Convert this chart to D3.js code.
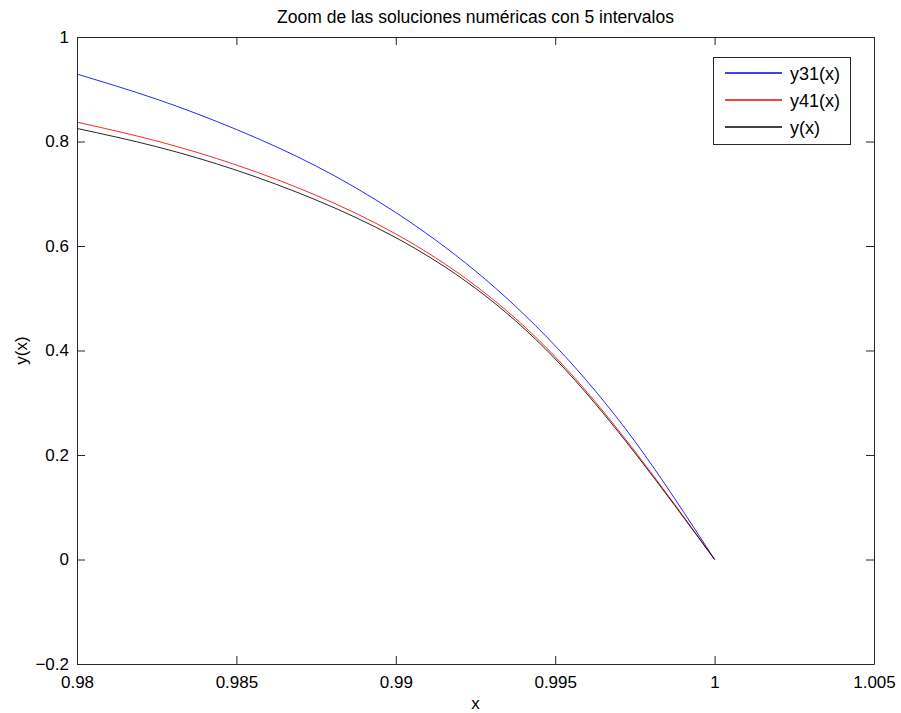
<!DOCTYPE html>
<html>
<head>
<meta charset="utf-8">
<script src="https://cdn.jsdelivr.net/npm/d3@7"></script>
<style>
  html, body { margin: 0; padding: 0; background: #fff; }
  svg { display: block; font-family: "Liberation Sans", Arial, sans-serif; }
</style>
</head>
<body>
<div id="chart"></div>
<script>
// ---- data ----
const xValues   = [0.98, 0.9825, 0.985, 0.9875, 0.99, 0.9925, 0.995, 0.9975, 1.0];
const y31Values = [0.929, 0.881, 0.823, 0.753, 0.664, 0.552, 0.409, 0.226, 0];
const y41Values = [0.837, 0.801, 0.755, 0.697, 0.623, 0.524, 0.388, 0.207, 0];
const yValues   = [0.825, 0.790, 0.745, 0.688, 0.616, 0.519, 0.384, 0.204, 0];
const seriesNames  = ["y31(x)", "y41(x)", "y(x)"];
const seriesColors = ["#0000ff", "#ff0000", "#000000"];
const xTicks = [0.98, 0.985, 0.99, 0.995, 1, 1.005];
const yTicks = [-0.2, 0, 0.2, 0.4, 0.6, 0.8, 1];
const titleText = "Zoom de las soluciones numéricas con 5 intervalos";
const xLabel = "x";
const yLabel = "y(x)";

// ---- layout ----
const W = 901, H = 713;
const M = { left: 77, right: 874, top: 37, bottom: 664 };

const svg = d3.select("#chart").append("svg")
  .attr("width", W).attr("height", H);

const x = d3.scaleLinear().domain([0.98, 1.005]).range([M.left, M.right]);
const y = d3.scaleLinear().domain([-0.2, 1]).range([M.bottom, M.top]);

const axisColor = "#262626";
const tickLen = 8;

// series lines
const seriesData = [y31Values, y41Values, yValues];
const line = d3.line()
  .x((d, i) => x(xValues[i]))
  .y(d => y(d))
  .curve(d3.curveNatural);

const plot = svg.append("g");
seriesData.forEach((vals, k) => {
  plot.append("path")
    .datum(vals)
    .attr("fill", "none")
    .attr("stroke", seriesColors[k])
    .attr("stroke-opacity", 0.85)
    .attr("stroke-width", 1)
    .attr("d", line);
});

// axes: box with inward ticks on all four sides
const xAxisB = d3.axisBottom(x).tickValues(xTicks).tickSizeInner(-tickLen).tickSizeOuter(0)
  .tickPadding(12).tickFormat(d => String(d));
const xAxisT = d3.axisTop(x).tickValues(xTicks).tickSizeInner(-tickLen).tickSizeOuter(0).tickFormat("");
const yAxisL = d3.axisLeft(y).tickValues(yTicks).tickSizeInner(-tickLen).tickSizeOuter(0)
  .tickPadding(8).tickFormat(d => d < 0 ? "\u2212" + Math.abs(d) : String(d));
const yAxisR = d3.axisRight(y).tickValues(yTicks).tickSizeInner(-tickLen).tickSizeOuter(0).tickFormat("");

function styleAxis(g) {
  g.select(".domain").attr("stroke", axisColor).attr("stroke-width", 1);
  g.selectAll(".tick line").attr("stroke", axisColor).attr("stroke-width", 1);
  g.selectAll(".tick text").attr("fill", "#000").attr("font-size", 17)
    .attr("font-family", "'Liberation Sans', Arial, sans-serif");
}

svg.append("g").attr("transform", `translate(0,${M.bottom})`).call(xAxisB).call(styleAxis);
svg.append("g").attr("transform", `translate(0,${M.top})`).call(xAxisT).call(styleAxis);
svg.append("g").attr("transform", `translate(${M.left},0)`).call(yAxisL).call(styleAxis);
svg.append("g").attr("transform", `translate(${M.right},0)`).call(yAxisR).call(styleAxis);

// title
svg.append("text")
  .attr("x", (M.left + M.right) / 2).attr("y", 23)
  .attr("text-anchor", "middle").attr("font-size", 17.5).attr("fill", "#000")
  .text(titleText);

// x label
svg.append("text")
  .attr("x", (M.left + M.right) / 2).attr("y", 709)
  .attr("text-anchor", "middle").attr("font-size", 17).attr("fill", "#000")
  .text(xLabel);

// y label
svg.append("text")
  .attr("transform", `translate(27,${(M.top + M.bottom) / 2}) rotate(-90)`)
  .attr("text-anchor", "middle").attr("font-size", 17).attr("fill", "#000")
  .text(yLabel);

// legend
const lg = svg.append("g");
lg.append("rect")
  .attr("x", 713.5).attr("y", 57.5).attr("width", 137).attr("height", 87)
  .attr("fill", "#fff").attr("stroke", axisColor).attr("stroke-width", 1);
const rowY = [73, 100, 127];
seriesNames.forEach((name, k) => {
  lg.append("line")
    .attr("x1", 725).attr("x2", 782)
    .attr("y1", rowY[k]).attr("y2", rowY[k])
    .attr("stroke", seriesColors[k]).attr("stroke-width", 1.5);
  lg.append("text")
    .attr("x", 790).attr("y", rowY[k] + 6.5)
    .attr("font-size", 18).attr("fill", "#000")
    .text(name);
});
</script>
</body>
</html>
